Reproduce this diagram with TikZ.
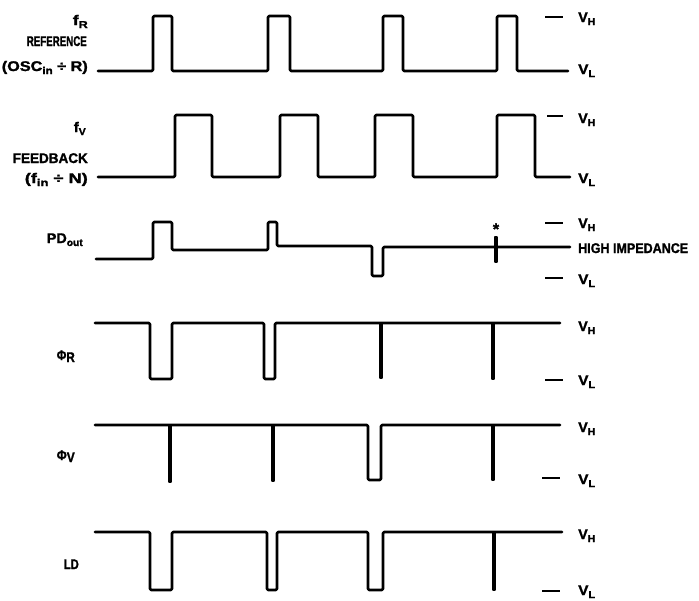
\documentclass[tikz,border=0pt]{standalone}
\usepackage{fontspec}
\usepackage{graphicx}
\setmainfont{Liberation Sans}[BoldFeatures={FakeBold=1.5}]
\newcommand\fitlab[2]{\resizebox{#1pt}{\height}{#2}}
\newcommand\sbs[1]{\raisebox{-3pt}{\fontsize{10}{10}\selectfont #1}}
\tikzset{
  wave/.style={line width=2.6pt, line join=round, line cap=round, rounded corners=1.2pt},
  spike/.style={line width=1.2pt, line join=round, fill=black},
  tickmark/.style={line width=1.5pt},
  lab/.style={inner sep=0pt, font=\fontsize{14}{14}\selectfont\bfseries},
  llab/.style={lab, anchor=base east},
  rlab/.style={lab, anchor=base west},
}
\begin{document}
\begin{tikzpicture}[x=1pt,y=-1pt]
\useasboundingbox (0,0) rectangle (699,600);
% ---------- left labels ----------
\node[llab] (fR) at (88,25) {\fitlab{15}{f\sbs{R}}};
\node[llab] (ref) at (87,46) {\fitlab{60}{REFERENCE}};
\node[llab] (osc) at (88,71) {\fitlab{86}{(OSC\sbs{in} ÷ R)}};
\node[llab] (fV) at (86,132) {\fitlab{12}{f\sbs{V}}};
\node[llab] (fb) at (88,163) {\fitlab{75}{FEEDBACK}};
\node[llab] (fin) at (88,183) {\fitlab{63}{(f\sbs{in} ÷ N)}};
\node[llab] (pd) at (83,243) {\fitlab{36}{PD\sbs{out}}};
\node[llab] (phR) at (75,360) {\fitlab{18}{Φ\raisebox{-2pt}{R}}};
\node[llab] (phV) at (75,460) {\fitlab{18}{Φ\raisebox{-2pt}{V}}};
\node[llab] (ld) at (79,569) {\fitlab{15}{LD}};
% ---------- right labels ----------
\node[rlab] (vh1) at (578,22) {\fitlab{17}{V\sbs{H}}};
\node[rlab] (vl1) at (578,74) {\fitlab{17}{V\sbs{L}}};
\node[rlab] (vh2) at (578,123) {\fitlab{17}{V\sbs{H}}};
\node[rlab] (vl2) at (578,183) {\fitlab{17}{V\sbs{L}}};
\node[rlab] (vh3) at (578,228) {\fitlab{17}{V\sbs{H}}};
\node[rlab] (hi) at (578,253) {\fitlab{110}{HIGH IMPEDANCE}};
\node[rlab] (vl3) at (578,284) {\fitlab{17}{V\sbs{L}}};
\node[rlab] (vh4) at (578,331) {\fitlab{17}{V\sbs{H}}};
\node[rlab] (vl4) at (578,385) {\fitlab{17}{V\sbs{L}}};
\node[rlab] (vh5) at (578,432) {\fitlab{17}{V\sbs{H}}};
\node[rlab] (vl5) at (578,484) {\fitlab{17}{V\sbs{L}}};
\node[rlab] (vh6) at (578,539) {\fitlab{17}{V\sbs{H}}};
\node[rlab] (vl6) at (578,595) {\fitlab{17}{V\sbs{L}}};
% ---------- level ticks ----------
\draw[tickmark] (545,17) -- (563,17);
\draw[tickmark] (547,116) -- (563,116);
\draw[tickmark] (545,223) -- (563,223);
\draw[tickmark] (545,278) -- (563,278);
\draw[tickmark] (545,380) -- (563,380);
\draw[tickmark] (542,478) -- (560,478);
\draw[tickmark] (542,591) -- (560,591);
% ---------- f_R ----------
\draw[wave] (98,71) -- (153,71) -- (153,16) -- (172,16) -- (172,71)
  -- (268,71) -- (268,16) -- (290,16) -- (290,71)
  -- (383,71) -- (383,16) -- (403,16) -- (403,71)
  -- (497,71) -- (497,16) -- (517,16) -- (517,71) -- (568,71);
% ---------- f_V ----------
\draw[wave] (98,177) -- (175,177) -- (175,115) -- (212,115) -- (212,177)
  -- (280,177) -- (280,115) -- (318,115) -- (318,177)
  -- (375,177) -- (375,115) -- (413,115) -- (413,177)
  -- (497,177) -- (497,115) -- (535,115) -- (535,177) -- (570,177);
% ---------- PD_out ----------
\draw[wave] (96,259) -- (153,259) -- (153,222) -- (172,222) -- (172,250)
  -- (268,250) -- (268,222) -- (277,222) -- (277,246)
  -- (372,246) -- (372,276) -- (383,276) -- (383,247) -- (570,247);
\filldraw[spike] (495,237) rectangle (497,262);
\node[inner sep=0pt, font=\fontsize{16}{16}\selectfont\bfseries] (ast) at (496,229) {*};
% ---------- phi_R ----------
\draw[wave] (95,323) -- (150,323) -- (150,379) -- (172,379) -- (172,323)
  -- (264,323) -- (264,379) -- (275,379) -- (275,323) -- (560,323);
\filldraw[spike] (380,323) rectangle (382,378);
\filldraw[spike] (492,323) rectangle (494,379);
% ---------- phi_V ----------
\draw[wave] (95,425) -- (368,425) -- (368,480) -- (381,480) -- (381,425) -- (560,425);
\filldraw[spike] (169,425) rectangle (171,482);
\filldraw[spike] (272,425) rectangle (274,481);
\filldraw[spike] (492,425) rectangle (494,480);
% ---------- LD ----------
\draw[wave] (95,532) -- (150,532) -- (150,590) -- (172,590) -- (172,532)
  -- (267,532) -- (267,590) -- (277,590) -- (277,532)
  -- (368,532) -- (368,590) -- (383,590) -- (383,532) -- (562,532);
\filldraw[spike] (493,532) rectangle (495,590);
\end{tikzpicture}
\end{document}
